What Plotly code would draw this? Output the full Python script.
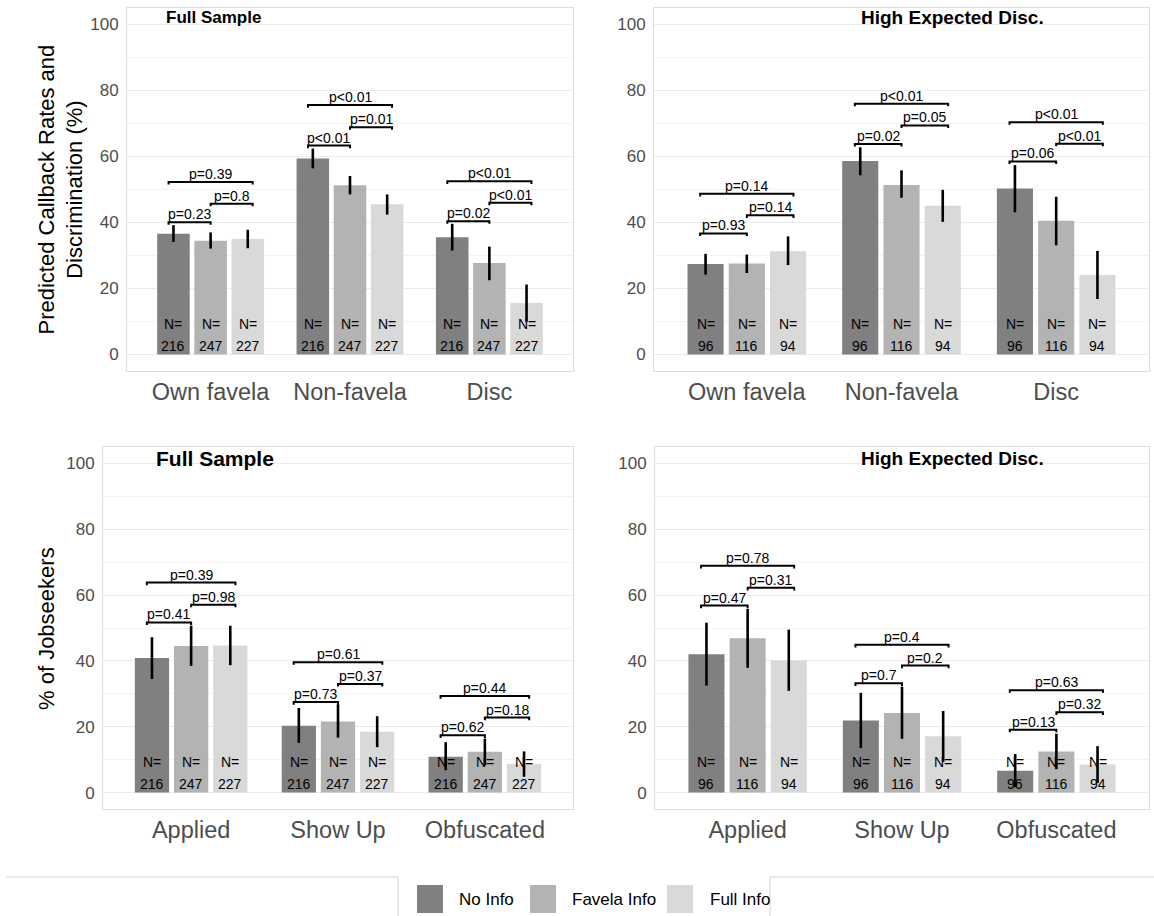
import plotly.graph_objects as go

W, H = 1154, 916
FONT = "Liberation Sans, Arial, sans-serif"

# ---------------- data ----------------
cats_top = ["Own favela", "Non-favela", "Disc"]
cats_bot = ["Applied", "Show Up", "Obfuscated"]
groups = ["No Info", "Favela Info", "Full Info"]
colors = ["#808080", "#b3b3b3", "#d9d9d9"]
n_full = [216, 247, 227]
n_high = [96, 116, 94]

# Top-left: Full Sample, callback rates
tl_no = [36.6, 59.4, 35.5]
tl_no_lo = [34.1, 56.4, 31.5]
tl_no_hi = [39.2, 62.4, 39.6]
tl_fav = [34.5, 51.3, 27.7]
tl_fav_lo = [32.1, 48.5, 22.5]
tl_fav_hi = [37.0, 54.1, 32.7]
tl_full = [35.0, 45.5, 15.6]
tl_full_lo = [32.2, 42.4, 9.9]
tl_full_hi = [37.8, 48.5, 21.2]
tl_p = [["p=0.23", "p=0.8", "p=0.39"], ["p<0.01", "p=0.01", "p<0.01"], ["p=0.02", "p<0.01", "p<0.01"]]
tl_py = [[40.1, 45.7, 52.3], [63.3, 68.9, 75.6], [40.4, 46.0, 52.5]]

# Top-right: High Expected Disc., callback rates
tr_no = [27.4, 58.6, 50.3]
tr_no_lo = [24.2, 54.3, 43.1]
tr_no_hi = [30.5, 62.8, 57.4]
tr_fav = [27.6, 51.4, 40.5]
tr_fav_lo = [24.7, 47.5, 33.1]
tr_fav_hi = [30.3, 55.8, 47.8]
tr_full = [31.3, 45.1, 24.1]
tr_full_lo = [27.1, 40.2, 16.8]
tr_full_hi = [35.8, 49.9, 31.4]
tr_p = [["p=0.93", "p=0.14", "p=0.14"], ["p=0.02", "p=0.05", "p<0.01"], ["p=0.06", "p<0.01", "p<0.01"]]
tr_py = [[36.7, 42.2, 48.7], [63.8, 69.4, 76.0], [58.5, 63.9, 70.4]]

# Bottom-left: Full Sample, jobseekers
bl_no = [40.9, 20.3, 10.9]
bl_no_lo = [34.5, 15.1, 6.8]
bl_no_hi = [47.2, 25.7, 15.3]
bl_fav = [44.5, 21.6, 12.4]
bl_fav_lo = [38.5, 16.7, 8.3]
bl_fav_hi = [50.7, 26.8, 16.4]
bl_full = [44.7, 18.5, 8.7]
bl_full_lo = [38.7, 13.8, 4.8]
bl_full_hi = [50.7, 23.2, 12.5]
bl_p = [["p=0.41", "p=0.98", "p=0.39"], ["p=0.73", "p=0.37", "p=0.61"], ["p=0.62", "p=0.18", "p=0.44"]]
bl_py = [[51.7, 57.1, 63.8], [27.5, 33.0, 39.6], [17.4, 22.8, 29.3]]

# Bottom-right: High Expected Disc., jobseekers
br_no = [42.0, 21.9, 6.6]
br_no_lo = [32.5, 13.5, 1.6]
br_no_hi = [51.6, 30.3, 11.7]
br_fav = [46.9, 24.2, 12.5]
br_fav_lo = [37.9, 16.3, 7.1]
br_fav_hi = [55.8, 32.2, 17.9]
br_full = [40.1, 17.1, 8.5]
br_full_lo = [30.9, 9.3, 2.9]
br_full_hi = [49.5, 24.8, 14.1]
br_p = [["p=0.47", "p=0.31", "p=0.78"], ["p=0.7", "p=0.2", "p=0.4"], ["p=0.13", "p=0.32", "p=0.63"]]
br_py = [[56.8, 62.2, 68.9], [33.2, 38.6, 44.9], [19.1, 24.4, 31.1]]

y_ticks = [0, 20, 40, 60, 80, 100]

# ---------------- layout helpers ----------------
def px_x(p):
    return p / W

def px_y(p):
    return 1 - p / H

DODGE = 0.8 / 3
BARW = 0.7 / 3
EXT = 0.035
TICK = 0.8

panels = [
    dict(ax="", cats=cats_top, ns=n_full,
         vals=[(tl_no, tl_no_lo, tl_no_hi), (tl_fav, tl_fav_lo, tl_fav_hi), (tl_full, tl_full_lo, tl_full_hi)],
         p=tl_p, py=tl_py, dx=(127, 573), dy=(8, 371), title="Full Sample", tx=213, ty=18, ts=17),
    dict(ax="2", cats=cats_top, ns=n_high,
         vals=[(tr_no, tr_no_lo, tr_no_hi), (tr_fav, tr_fav_lo, tr_fav_hi), (tr_full, tr_full_lo, tr_full_hi)],
         p=tr_p, py=tr_py, dx=(654, 1149), dy=(8, 371), title="High Expected Disc.", tx=952, ty=18, ts=19),
    dict(ax="3", cats=cats_bot, ns=n_full,
         vals=[(bl_no, bl_no_lo, bl_no_hi), (bl_fav, bl_fav_lo, bl_fav_hi), (bl_full, bl_full_lo, bl_full_hi)],
         p=bl_p, py=bl_py, dx=(103, 573), dy=(447, 809), title="Full Sample", tx=215, ty=458, ts=21),
    dict(ax="4", cats=cats_bot, ns=n_high,
         vals=[(br_no, br_no_lo, br_no_hi), (br_fav, br_fav_lo, br_fav_hi), (br_full, br_full_lo, br_full_hi)],
         p=br_p, py=br_py, dx=(655, 1149), dy=(447, 809), title="High Expected Disc.", tx=952, ty=458, ts=19),
]

fig = go.Figure()
annotations = []
shapes = []

for pan in panels:
    xa = "x" + pan["ax"]
    ya = "y" + pan["ax"]
    idx = list(range(len(pan["cats"])))
    for k, (v, lo, hi) in enumerate(pan["vals"]):
        xs = [i + (k - 1) * DODGE for i in idx]
        fig.add_trace(go.Bar(
            x=xs, y=v, width=BARW, name=groups[k], showlegend=False,
            marker=dict(color=colors[k], line=dict(width=0)),
            error_y=dict(type="data", symmetric=False,
                         array=[h - a for h, a in zip(hi, v)],
                         arrayminus=[a - l for a, l in zip(v, lo)],
                         thickness=2.6, width=0, color="black"),
            xaxis=xa, yaxis=ya, hoverinfo="skip",
        ))
        for x in xs:
            annotations.append(dict(x=x, y=9.2, xref=xa, yref=ya, text="N=", showarrow=False,
                                    xanchor="center", yanchor="middle",
                                    font=dict(size=14, color="black", family=FONT)))
        for x in xs:
            annotations.append(dict(x=x, y=2.7, xref=xa, yref=ya, text=str(pan["ns"][k]), showarrow=False,
                                    xanchor="center", yanchor="middle",
                                    font=dict(size=14, color="black", family=FONT)))
    # significance brackets
    for i in idx:
        c1, c2, c3 = i - DODGE, i, i + DODGE
        spans = [(c1 - EXT, c2), (c2, c3 + EXT), (c1 - EXT, c3 + EXT)]
        for j, (x0, x1) in enumerate(spans):
            yb = pan["py"][i][j]
            shapes.append(dict(type="path", xref=xa, yref=ya,
                               path=f"M {x0},{yb - TICK} L {x0},{yb} L {x1},{yb} L {x1},{yb - TICK}",
                               line=dict(color="black", width=2)))
            annotations.append(dict(x=(x0 + x1) / 2, y=yb, xref=xa, yref=ya,
                                    text=pan["p"][i][j].replace("<", "&lt;"),
                                    showarrow=False, xanchor="center", yanchor="bottom",
                                    borderpad=0, yshift=-1,
                                    font=dict(size=14, color="black", family=FONT)))
    # panel title
    annotations.append(dict(x=px_x(pan["tx"]), y=px_y(pan["ty"]), xref="paper", yref="paper",
                            text="<b>" + pan["title"] + "</b>", showarrow=False,
                            xanchor="center", yanchor="middle",
                            font=dict(size=pan["ts"], color="black", family=FONT)))
    # axes
    xkey = "xaxis" + pan["ax"]
    ykey = "yaxis" + pan["ax"]
    fig.layout[xkey] = dict(domain=[px_x(pan["dx"][0]), px_x(pan["dx"][1])], range=[-0.6, 2.6],
                            tickvals=idx, ticktext=pan["cats"], showgrid=False, zeroline=False,
                            ticks="", showline=True, mirror=True, linecolor="#dedede", linewidth=1,
                            tickfont=dict(size=23.5, color="#4d4d4d", family=FONT),
                            anchor=ya, fixedrange=True)
    fig.layout[ykey] = dict(domain=[px_y(pan["dy"][1]), px_y(pan["dy"][0])], range=[-5, 105],
                            tickvals=y_ticks, showgrid=True, gridcolor="#ebebeb", gridwidth=1,
                            minor=dict(dtick=10, tick0=0, showgrid=True, gridcolor="#f3f3f3", gridwidth=1),
                            zeroline=False, ticks="", showline=True, mirror=True, linecolor="#dedede",
                            linewidth=1, tickfont=dict(size=17, color="#4d4d4d", family=FONT),
                            ticklabelstandoff=4, anchor=xa, fixedrange=True)

# y-axis titles
annotations.append(dict(x=px_x(60), y=px_y(189.5), xref="paper", yref="paper",
                        text="Predicted Callback Rates and<br>Discrimination (%)", textangle=-90,
                        showarrow=False, xanchor="center", yanchor="middle",
                        font=dict(size=22, color="black", family=FONT)))
annotations.append(dict(x=px_x(46), y=px_y(628), xref="paper", yref="paper",
                        text="% of Jobseekers", textangle=-90,
                        showarrow=False, xanchor="center", yanchor="middle",
                        font=dict(size=22, color="black", family=FONT)))

# legend (drawn manually)
sw_x = [417, 530, 667]
tx_x = [457, 570, 708]
for k in range(3):
    shapes.append(dict(type="rect", xref="paper", yref="paper",
                       x0=px_x(sw_x[k]), x1=px_x(sw_x[k] + 26), y0=px_y(913), y1=px_y(885),
                       fillcolor=colors[k], line=dict(width=0)))
    annotations.append(dict(x=px_x(tx_x[k]), y=px_y(899), xref="paper", yref="paper",
                            text=groups[k], showarrow=False, xanchor="left", yanchor="middle",
                            font=dict(size=17, color="black", family=FONT)))
lc = "#d4d4d4"
for (x0, y0, x1, y1) in [(6, 877, 398, 877), (398, 877, 398, 916), (770, 877, 770, 916), (770, 877, 1154, 877)]:
    shapes.append(dict(type="line", xref="paper", yref="paper",
                       x0=px_x(x0), y0=px_y(y0), x1=px_x(x1), y1=px_y(y1),
                       line=dict(color=lc, width=1)))

fig.update_layout(
    width=W, height=H, margin=dict(l=0, r=0, t=0, b=0, autoexpand=False),
    paper_bgcolor="white", plot_bgcolor="white", barmode="overlay",
    showlegend=False, annotations=annotations, shapes=shapes,
    font=dict(family=FONT), hovermode=False,
)

fig.write_html("out.html", config={"displayModeBar": False, "staticPlot": True},
               post_script="document.body.style.margin='0';document.body.style.overflow='hidden';")
